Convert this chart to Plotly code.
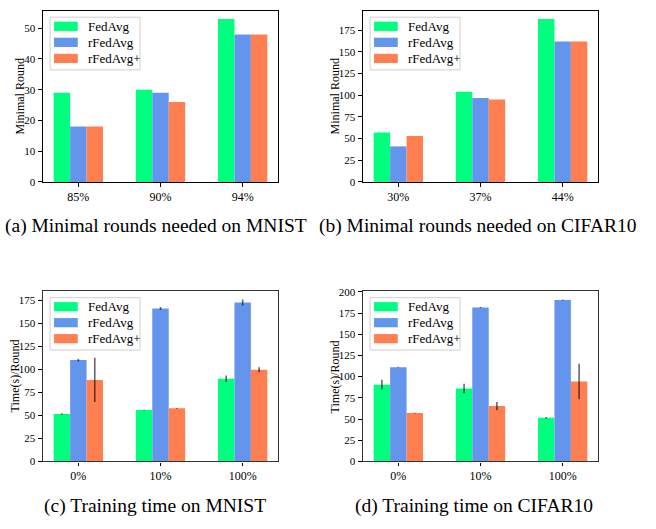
import plotly.graph_objects as go

series = ["FedAvg", "rFedAvg", "rFedAvg+"]
colors = ["#00FF7F", "#6495ED", "#FF7F50"]

# (a) Minimal rounds needed on MNIST
a_cats = ["85%", "90%", "94%"]
a_fedavg = [29, 30, 53]
a_rfedavg = [18, 29, 48]
a_rfedavgp = [18, 26, 48]

# (b) Minimal rounds needed on CIFAR10
b_cats = ["30%", "37%", "44%"]
b_fedavg = [57, 104, 188]
b_rfedavg = [41, 97, 162]
b_rfedavgp = [53, 95, 162]

# (c) Training time on MNIST
c_cats = ["0%", "10%", "100%"]
c_fedavg = [51.5, 55.7, 89.8]
c_fedavg_err = [0.8, 0.4, 3.5]
c_rfedavg = [110, 166, 172.5]
c_rfedavg_err = [1.5, 1.5, 3.3]
c_rfedavgp = [88.5, 57.7, 99.5]
c_rfedavgp_err = [24, 0.4, 2.7]

# (d) Training time on CIFAR10
d_cats = ["0%", "10%", "100%"]
d_fedavg = [90.5, 86, 51.5]
d_fedavg_err = [5.8, 5.7, 0.8]
d_rfedavg = [111.2, 181.5, 190.5]
d_rfedavg_err = [0.4, 0.5, 0.5]
d_rfedavgp = [57, 65.3, 94.2]
d_rfedavgp_err = [0.4, 4.8, 21]

FONT = "Liberation Serif, Times New Roman, serif"

panels = [
    dict(cats=a_cats, vals=[a_fedavg, a_rfedavg, a_rfedavgp], errs=None,
         xd=[43/656, 278/656], yd=[1-180/529, 1-5/529], ytitle="Minimal Round",
         dtick=10, title_x=20, axcol="#000000"),
    dict(cats=b_cats, vals=[b_fedavg, b_rfedavg, b_rfedavgp], errs=None,
         xd=[363/656, 598/656], yd=[1-180/529, 1-5/529], ytitle="Minimal Round",
         dtick=25, title_x=335, axcol="#000000"),
    dict(cats=c_cats, vals=[c_fedavg, c_rfedavg, c_rfedavgp],
         errs=[c_fedavg_err, c_rfedavg_err, c_rfedavgp_err],
         xd=[43/656, 278/656], yd=[1-466/529, 1-292/529], ytitle="Time(s)/Round",
         dtick=25, title_x=15, axcol="#333333"),
    dict(cats=d_cats, vals=[d_fedavg, d_rfedavg, d_rfedavgp],
         errs=[d_fedavg_err, d_rfedavg_err, d_rfedavgp_err],
         xd=[363/656, 598/656], yd=[1-466/529, 1-292/529], ytitle="Time(s)/Round",
         dtick=25, title_x=335, axcol="#333333"),
]

captions = [
    ("(a) Minimal rounds needed on MNIST", 156, 225.5),
    ("(b) Minimal rounds needed on CIFAR10", 478, 225.5),
    ("(c) Training time on MNIST", 155, 512),
    ("(d) Training time on CIFAR10", 474, 512),
]

fig = go.Figure()
shapes = []
annotations = []

for i, p in enumerate(panels):
    sfx = "" if i == 0 else str(i + 1)
    xa, ya = "x" + sfx, "y" + sfx
    top = 0
    for k in range(3):
        vals = p["vals"][k]
        err = p["errs"][k] if p["errs"] else None
        kw = {}
        if err is not None:
            kw["error_y"] = dict(type="data", array=err, visible=True,
                                 color="rgba(0,0,0,0.6)", thickness=1.6, width=0)
            top = max(top, max(v + e for v, e in zip(vals, err)))
        else:
            top = max(top, max(vals))
        fig.add_trace(go.Bar(x=p["cats"], y=vals, name=series[k],
                             marker=dict(color=colors[k], line=dict(width=0)),
                             xaxis=xa, yaxis=ya, showlegend=False,
                             offsetgroup=str(k), hoverinfo="skip", **kw))
    ymax = top * 1.05
    fig.layout["xaxis" + sfx] = dict(
        domain=p["xd"], anchor=ya, range=[-0.43, 2.43], type="category",
        showline=True, mirror=True, linecolor=p["axcol"], linewidth=1.2,
        ticks="outside", ticklen=3.5, tickwidth=1, tickcolor="#000",
        tickfont=dict(family=FONT, size=12, color="#000"),
        showgrid=False, zeroline=False, fixedrange=True)
    fig.layout["yaxis" + sfx] = dict(
        domain=p["yd"], anchor=xa, range=[0, ymax],
        tickmode="linear", tick0=0, dtick=p["dtick"],
        showline=True, mirror=True, linecolor=p["axcol"], linewidth=1.2,
        ticks="outside", ticklen=3.5, tickwidth=1, tickcolor="#000",
        ticklabelstandoff=1,
        tickfont=dict(family=FONT, size=11, color="#000"),
        showgrid=False, zeroline=False, fixedrange=True)
    # y-axis title
    annotations.append(dict(
        text=p["ytitle"], xref="paper", yref="paper",
        x=p["title_x"] / 656, y=(p["yd"][0] + p["yd"][1]) / 2,
        xanchor="center", yanchor="middle", textangle=-90, showarrow=False,
        font=dict(family=FONT, size=12, color="#000")))
    # legend box
    xd, yd = "x" + sfx + " domain", "y" + sfx + " domain"
    shapes.append(dict(type="rect", xref=xd, yref=yd, x0=0.030, x1=0.413,
                       y0=0.655, y1=0.963, fillcolor="rgba(255,255,255,0.8)",
                       line=dict(color="#d0d0d0", width=1), layer="above"))
    rows = [0.910, 0.816, 0.722]
    for k in range(3):
        shapes.append(dict(type="rect", xref=xd, yref=yd, x0=0.047, x1=0.148,
                           y0=rows[k] - 0.027, y1=rows[k] + 0.027,
                           fillcolor=colors[k], line=dict(width=0), layer="above"))
        annotations.append(dict(
            text=series[k], xref=xd, yref=yd, x=0.183, y=rows[k],
            xanchor="left", yanchor="middle", showarrow=False,
            font=dict(family=FONT, size=13, color="#000")))

for text, cx, cy in captions:
    annotations.append(dict(
        text=text, xref="paper", yref="paper", x=cx / 656, y=1 - cy / 529,
        xanchor="center", yanchor="middle", showarrow=False,
        font=dict(family=FONT, size=19.5, color="#000")))

fig.update_layout(
    width=656, height=529, margin=dict(l=0, r=0, t=0, b=0),
    paper_bgcolor="white", plot_bgcolor="white",
    barmode="group", bargap=0.4, bargroupgap=0,
    showlegend=False, shapes=shapes, annotations=annotations,
    font=dict(family=FONT, color="#000"),
)

fig.write_html("out.html", config={"displayModeBar": False},
               post_script="document.body.style.margin='0';document.body.style.overflow='hidden';")
